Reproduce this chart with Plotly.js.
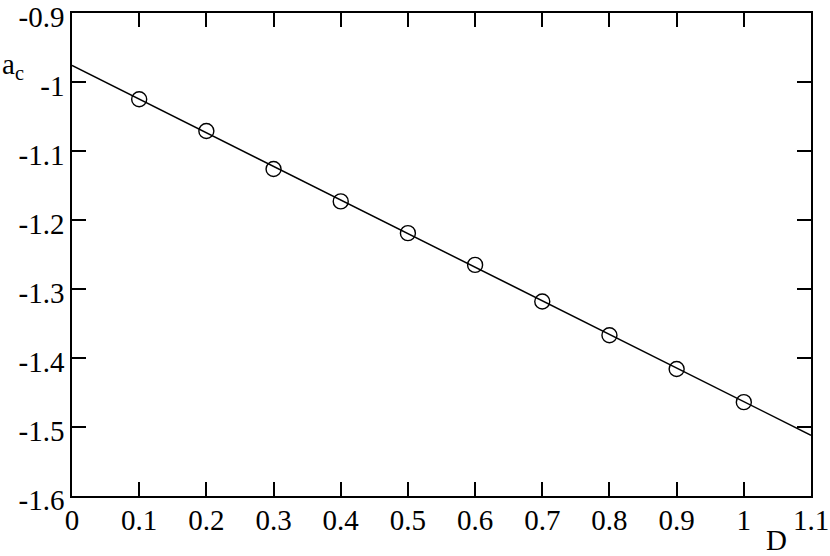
<!DOCTYPE html>
<html>
<head>
<meta charset="utf-8">
<script src="https://cdn.plot.ly/plotly-3.0.1.min.js"></script>
<style>
  html, body { margin: 0; padding: 0; background: #fff; }
  #grafico { width: 830px; height: 556px; }
</style>
</head>
<body>
<div id="grafico"></div>
<script>
// pontos medidos
const dVals = [0.1, 0.2, 0.3, 0.4, 0.5, 0.6, 0.7, 0.8, 0.9, 1.0];
const acVals = [-1.025, -1.071, -1.126, -1.173, -1.219, -1.265, -1.318, -1.367, -1.416, -1.464];

// reta ajustada
const fitD = [0, 1.1];
const fitAc = [-0.976, -1.512];

// rotulos do eixo y (hifen simples como no original)
const yTicks = [-1.6, -1.5, -1.4, -1.3, -1.2, -1.1, -1, -0.9];
const yLabels = ['-1.6', '-1.5', '-1.4', '-1.3', '-1.2', '-1.1', '-1', '-0.9'];

const fonte = { family: 'Liberation Serif', size: 29, color: '#000' };

const data = [
    {
        x: fitD,
        y: fitAc,
        mode: 'lines',
        line: { color: '#000', width: 1.5 },
        hoverinfo: 'skip'
    },
    {
        x: dVals,
        y: acVals,
        mode: 'markers',
        marker: {
            symbol: 'circle-open',
            size: 15,
            color: '#000',
            line: { color: '#000', width: 1.4 }
        }
    }
];

const layout = {
    width: 830,
    height: 556,
    margin: { l: 72, r: 19, t: 13, b: 60 },
    showlegend: false,
    plot_bgcolor: '#fff',
    paper_bgcolor: '#fff',
    font: fonte,
    xaxis: {
        range: [0, 1.1],
        dtick: 0.1,
        tick0: 0,
        showgrid: false,
        zeroline: false,
        showline: true,
        linecolor: '#000',
        linewidth: 1.5,
        mirror: 'ticks',
        ticks: 'inside',
        ticklen: 14,
        tickwidth: 1.5,
        tickcolor: '#000',
        tickfont: fonte,
        ticklabelstandoff: -3
    },
    yaxis: {
        range: [-1.6, -0.8999],
        tickvals: yTicks,
        ticktext: yLabels,
        showgrid: false,
        zeroline: false,
        showline: true,
        linecolor: '#000',
        linewidth: 1.5,
        mirror: 'ticks',
        ticks: 'inside',
        ticklen: 14,
        tickwidth: 1.5,
        tickcolor: '#000',
        tickfont: fonte,
        ticklabelshift: 4,
        ticklabeloverflow: 'allow'
    },
    annotations: [
        {
            text: 'D',
            xref: 'paper', yref: 'paper',
            x: 0.953, y: -0.091,
            xanchor: 'center', yanchor: 'middle',
            showarrow: false,
            font: fonte
        },
        {
            text: 'a<sub>c</sub>',
            xref: 'paper', yref: 'paper',
            x: -0.097, y: 0.89,
            xanchor: 'left', yanchor: 'middle',
            showarrow: false,
            font: fonte
        }
    ]
};

Plotly.newPlot('grafico', data, layout, { displayModeBar: false });
</script>
</body>
</html>
